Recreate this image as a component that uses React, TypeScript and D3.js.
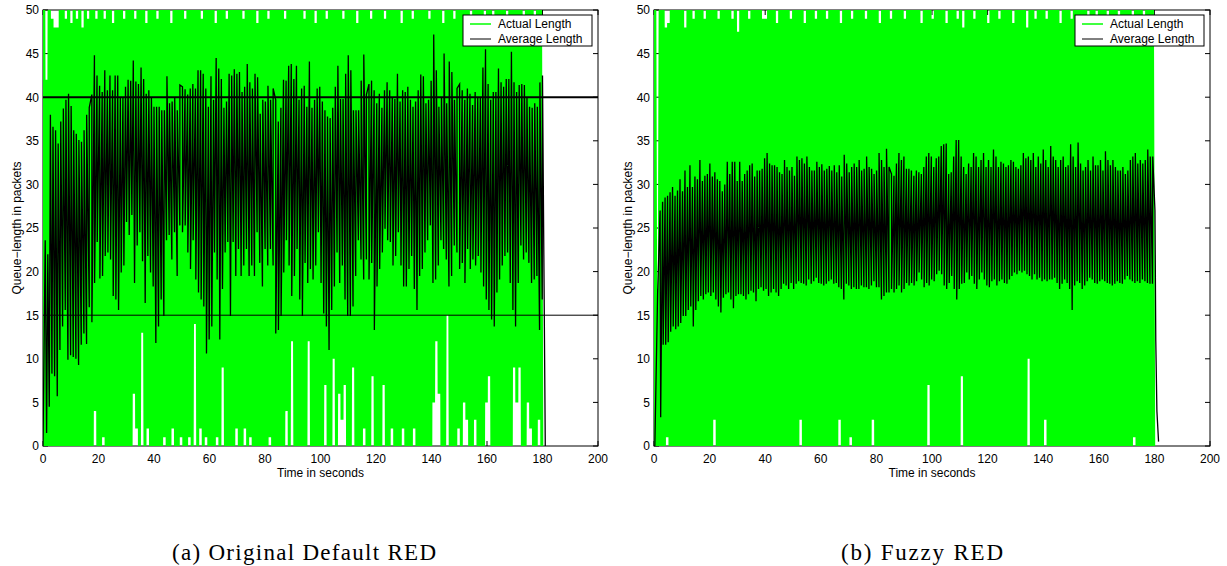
import React from 'react';
import * as d3 from 'd3';

const W = 1227;
const H = 566;

const xTicks = [0, 20, 40, 60, 80, 100, 120, 140, 160, 180, 200];
const yTicks = [0, 5, 10, 15, 20, 25, 30, 35, 40, 45, 50];
const legendLabels = ['Actual Length', 'Average Length'];
const xLabel = 'Time in seconds';
const yLabel = 'Queue\u2212length in packets';
const captions = ['(a) Original Default RED', '(b) Fuzzy RED'];
const thresholdsA = [15, 40];

// ---------- Panel (a): Original Default RED ----------
// Actual queue length: one peak and one trough per second (peaks above 50 are clipped)
const greenPeaksA = [
  55, 42, 55, 49, 48, 48, 55, 55, 49, 55, 48.5, 55, 49, 55, 48, 55, 49, 55, 55, 49,
  55, 55, 49, 55, 55, 48.5, 55, 55, 55, 49, 55, 55, 55, 49, 55, 55, 55, 48.5, 55, 55,
  55, 49, 55, 55, 55, 55, 48.5, 55, 55, 55, 55, 49, 55, 55, 55, 55, 55, 49, 55, 55,
  55, 55, 48.5, 55, 55, 55, 49, 55, 55, 55, 55, 55, 49, 55, 55, 55, 55, 48.5, 55, 55,
  55, 49, 55, 55, 55, 55, 55, 49, 55, 55, 55, 55, 55, 55, 49, 55, 55, 55, 48.5, 55,
  55, 55, 49, 55, 55, 55, 55, 55, 49, 55, 55, 55, 55, 48.5, 55, 55, 55, 55, 49, 55,
  55, 55, 55, 49, 55, 55, 55, 55, 55, 48.5, 55, 55, 55, 49, 55, 55, 55, 55, 55, 49,
  55, 55, 55, 55, 48.5, 55, 55, 55, 49, 55, 55, 55, 55, 55, 49, 55, 55, 55, 55, 48.5,
  55, 55, 49, 55, 55, 55, 55, 49, 55, 55, 55, 55, 55, 48.5, 55, 55, 55, 49, 55, 55,
];
const greenTroughsA = [
  0, 0, 0, 0, 0, 0, 0, 0, 0, 0, 0, 0, 0, 0, 0, 0, 0, 0, 4, 0,
  0, 1, 0, 0, 0, 0, 0, 0, 0, 0, 0, 0, 6, 2, 0, 13, 0, 2, 0, 0,
  0, 0, 0, 1, 0, 0, 2, 0, 0, 1, 0, 0, 1, 0, 14, 0, 2, 0, 1, 0,
  0, 0, 1, 0, 9, 0, 0, 0, 0, 2, 0, 0, 2, 0, 1, 0, 0, 0, 0, 0,
  0, 1, 0, 0, 0, 0, 0, 4, 0, 12, 0, 0, 0, 0, 0, 12, 0, 0, 0, 0,
  0, 7, 0, 0, 10, 0, 6, 3, 7, 0, 0, 9, 0, 0, 0, 2, 0, 0, 8, 0,
  0, 0, 7, 0, 0, 2, 0, 0, 0, 2, 0, 0, 0, 2, 0, 0, 0, 0, 0, 0,
  5, 12, 6, 0, 0, 15, 0, 0, 0, 2, 0, 5, 3, 0, 0, 3, 0, 0, 0, 5,
  8, 0, 0, 0, 0, 0, 0, 0, 0, 9, 5, 9, 0, 0, 5, 2, 0, 0, 3, 0,
];
// Average queue length: local maxima and minima in time order
const avgPeaksA = [
  23.6, 22, 38, 36.6, 36.2, 34.7, 37.2, 38.7, 39.7, 40.4, 39, 36.2, 35.8, 35.1, 34.9, 36.2, 38, 38.8, 40.3, 44.8,
  42.5, 41.3, 40.6, 43.1, 40.8, 42.5, 40.8, 42.5, 42.5, 40, 40, 41.2, 42, 41.9, 44.2, 41.8, 41.5, 43.4, 42.1, 40.4,
  40.8, 40, 38.9, 38.9, 38.9, 38.5, 38.5, 42.4, 39.3, 39.5, 39.9, 38.5, 41.4, 41.2, 40.9, 40.3, 41, 41.5, 41, 43.1,
  43.1, 42.7, 41, 38.9, 42.4, 39.7, 44.5, 43.3, 42.1, 38.8, 39.5, 42.7, 42.5, 43.2, 42.7, 42.9, 40.6, 41.2, 43.8, 41.7,
  41, 42.7, 42.3, 38.1, 39.7, 39.5, 41.3, 39.7, 41, 39.7, 37.2, 38.8, 42, 41.9, 43.6, 43.8, 42.1, 43.6, 39.7, 41,
  41.3, 38.9, 44.1, 38.8, 39.7, 41, 41.2, 39.5, 38.5, 37.8, 37.6, 38.8, 41.2, 43.6, 39.8, 39.8, 42.7, 44.8, 43.1, 38.5,
  38.5, 38.5, 41.9, 44.9, 40.3, 41.5, 41.9, 40.8, 39.3, 40.4, 38.8, 40.8, 41.7, 40.8, 39.9, 39.8, 42.7, 39.5, 40.8, 40.6,
  41.2, 39.7, 38.9, 39.5, 40.8, 42.6, 42.4, 39.3, 39.7, 41.9, 47.2, 43.1, 38.9, 40, 45, 39.3, 44.1, 42.9, 39.7, 41,
  41.5, 40.8, 39.7, 41, 40.4, 39.1, 40.6, 40, 39.9, 43.4, 45.5, 41.5, 39.7, 40.6, 40.6, 43.3, 41.7, 41.2, 42.1, 42.1,
  45.2, 41.7, 40.6, 41.4, 41.5, 41.4, 39.9, 38.9, 38.8, 39.3, 38.9, 41.7, 42.5,
];
const avgTroughsA = [
  1.5, 4.5, 8.3, 8, 5.7, 11, 13.7, 15.6, 9.9, 10.4, 10.2, 10, 9.3, 11.6, 12.9, 11.7, 15.9, 14.2, 18.7, 23.4,
  19.2, 19.5, 21.8, 22.2, 21.4, 17.2, 16.8, 15.6, 19.9, 20.7, 25.7, 24.2, 26.5, 18.7, 23, 24.5, 21.2, 16.4, 21.8, 19.9,
  18.3, 11.8, 13.7, 16.8, 14.9, 23.6, 24.2, 21.4, 24.5, 19.5, 25.3, 24.5, 25.3, 22.2, 20.3, 23.6, 19.1, 17.6, 16.8, 16,
  10.6, 12.2, 13.7, 22.2, 19.1, 12.2, 18, 22.2, 23.4, 14.9, 23.4, 19.5, 22.6, 19.5, 20.7, 22.6, 19.5, 20.7, 19.5, 24.5,
  21, 18.3, 22.6, 20.7, 22.6, 20.7, 12.9, 13.3, 14.9, 19.9, 23.6, 20.7, 17.2, 19.5, 22.6, 16.8, 14.9, 21, 18.7, 20.3,
  19.1, 20.7, 24.5, 18.7, 15.2, 13.7, 11, 15.6, 18.3, 22.2, 18.7, 20.7, 16.8, 14.9, 14.9, 16, 19.5, 23.6, 21.4, 19.1,
  21.4, 19.1, 21, 13.3, 18.3, 20.3, 22.2, 24.9, 23.6, 23.4, 20.7, 21.8, 24.5, 20.7, 18.3, 18.3, 20.3, 21.8, 18, 15.6,
  19.5, 20.3, 22.2, 23.6, 25.3, 18.7, 19.1, 20.7, 23.6, 22.6, 21.4, 18.3, 19.5, 23, 22.2, 20.3, 21, 18.7, 22.6, 20.3,
  21.4, 20.7, 21.8, 19.9, 18.3, 16.8, 15.6, 14.5, 13.7, 17.6, 19.1, 20.7, 21.8, 22.2, 18.7, 15.6, 13.7, 18.7, 23, 21.4,
  22.2, 21, 18.7, 19.1, 19.5, 13.3, 16.8,
];
const avgHeadA: [number, number][] = [[0, 0]];
const avgTailA: [number, number][] = [[181, 0]];

// ---------- Panel (b): Fuzzy RED ----------
const greenPeaksB = [
  55, 18, 55, 55, 48, 48.5, 55, 55, 55, 55, 55, 48, 55, 55, 49, 55, 55, 55, 49, 55,
  55, 55, 55, 49, 55, 55, 55, 55, 49, 55, 47.5, 55, 55, 55, 49, 55, 55, 55, 55, 49,
  49, 55, 55, 55, 48.5, 55, 55, 55, 55, 49, 55, 55, 55, 55, 48.5, 55, 55, 55, 49, 55,
  55, 55, 49, 55, 55, 55, 55, 48.5, 55, 55, 55, 49, 55, 55, 55, 55, 49, 55, 55, 55,
  55, 48.5, 55, 55, 55, 49, 55, 55, 55, 55, 49, 55, 55, 55, 55, 55, 48.5, 55, 55, 55,
  49, 55, 55, 55, 55, 48.5, 55, 55, 55, 49, 55, 48, 55, 55, 55, 49, 55, 55, 55, 55,
  48.5, 55, 55, 55, 49, 55, 55, 55, 55, 48.5, 55, 55, 55, 55, 48, 55, 55, 49, 55, 55,
  55, 49, 55, 55, 55, 55, 48.5, 55, 55, 55, 49, 55, 55, 55, 55, 55, 48.5, 55, 55, 49,
  55, 55, 55, 48.5, 55, 55, 55, 49, 55, 55, 55, 55, 48.5, 55, 55, 55, 49, 55, 55, 55,
];
const greenTroughsB = [
  0, 0, 0, 0, 1, 0, 0, 0, 0, 0, 0, 0, 0, 0, 0, 0, 0, 0, 0, 0,
  0, 3, 0, 0, 0, 0, 0, 0, 0, 0, 0, 0, 0, 0, 0, 0, 0, 0, 0, 0,
  0, 0, 0, 0, 0, 0, 0, 0, 0, 0, 0, 0, 3, 0, 0, 0, 0, 0, 0, 0,
  0, 0, 0, 0, 0, 0, 3, 0, 0, 0, 1, 0, 0, 0, 0, 0, 0, 0, 3, 0,
  0, 0, 0, 0, 0, 0, 0, 0, 0, 0, 0, 0, 0, 0, 0, 0, 0, 0, 7, 0,
  0, 0, 0, 0, 0, 0, 0, 0, 0, 0, 8, 0, 0, 0, 0, 0, 0, 0, 0, 0,
  0, 0, 0, 0, 0, 0, 0, 0, 0, 0, 0, 0, 0, 0, 10, 0, 0, 0, 0, 0,
  3, 0, 0, 0, 0, 0, 0, 0, 0, 0, 0, 0, 0, 0, 0, 0, 0, 0, 0, 0,
  0, 0, 0, 0, 0, 0, 0, 0, 0, 0, 0, 0, 1, 0, 0, 0, 0, 0, 0, 0,
];
const avgPeaksB = [
  17.5, 27, 28, 28.5, 28.7, 29.1, 29.7, 28.7, 29.3, 30.6, 29.2, 31.6, 29.7, 32.2, 29.7, 30.9, 30.6, 32.8, 30.4, 31,
  31.2, 32.4, 30.9, 31.4, 30.6, 30.4, 29.2, 30, 32.6, 31.2, 32.6, 32.6, 30.4, 32.6, 30.4, 31.2, 31.6, 32.2, 32.4, 30.9,
  31.6, 31.6, 31.8, 33, 33.6, 32.4, 32.2, 32.2, 32, 31.4, 31.2, 32.8, 32, 31.6, 32, 31, 33.2, 32.8, 33, 32.4,
  33.2, 32, 31.6, 31.6, 32.6, 32, 32.3, 31.6, 31.8, 32.1, 31.6, 32.2, 31.4, 32.2, 30.9, 33.4, 32.4, 31.4, 32, 32.4,
  32, 32.8, 31.6, 31.8, 33.2, 32, 31.8, 31.2, 31.6, 33.6, 32.8, 32, 34.1, 32, 31.2, 31, 32.4, 33.6, 32.8, 33.2,
  31.8, 31.8, 31.6, 31, 31.6, 31.4, 31.2, 32, 33.2, 33.6, 33.2, 32, 33, 33.2, 34.4, 34.6, 34.7, 31.2, 31.4, 33.2,
  35.1, 35.1, 33.2, 32, 31.2, 32.4, 32, 33.6, 33.2, 32, 32.8, 33.6, 32, 32.8, 32, 34, 33.2, 32, 32.6, 32.4,
  32, 32.2, 32.8, 32.6, 32, 31.8, 32.2, 33.6, 33, 33.2, 32.8, 33.6, 32, 33.2, 32.4, 34, 32.8, 32, 34.4, 33.2,
  32.8, 32, 32.8, 33.2, 32, 32.2, 34.6, 33.2, 32, 34.8, 32.4, 31.6, 32, 32.8, 31.6, 33.2, 32.2, 32.2, 32.8, 31.6,
  33.8, 32.8, 32.2, 32.8, 32, 31.6, 31.6, 32, 31.2, 31.6, 32.8, 33.2, 33.6, 32.4, 32.8, 32.4, 32.8, 34, 33.2, 33.2,
];
const avgTroughsB = [
  3.3, 11.6, 11.6, 11.9, 13.1, 13.7, 13.4, 13.7, 14.1, 14.9, 14.9, 15.6, 16, 13.7, 15.6, 16.6, 17.2, 16.8, 17.4, 17.6,
  17.2, 17.6, 16.8, 16, 15.3, 17, 17.4, 17.6, 16.8, 15.8, 17.2, 17.4, 17.4, 17.2, 16.8, 17.4, 17.8, 17.6, 16.6, 18,
  18.2, 17.8, 18, 17.2, 17.6, 18, 17.6, 17.2, 18, 18.6, 18.4, 18, 18.7, 18, 18.6, 18.9, 18.7, 18.6, 18.4, 19.1,
  18.6, 18.9, 19.3, 18.7, 18.6, 18.4, 18.6, 18.9, 19.1, 18.6, 18.7, 18.2, 18, 16.8, 18.6, 18.4, 18, 18.2, 18, 18,
  18.4, 18.2, 18.2, 18, 18.4, 18.9, 18.2, 18.2, 16.8, 17.2, 17.6, 17.6, 18, 17.6, 18, 18.4, 17.6, 18, 18.7, 18.4,
  18.7, 18.4, 18.9, 19.9, 19.1, 18.2, 18.7, 18.4, 19.1, 18.9, 19.7, 20.1, 19.7, 18.4, 18, 18.7, 19.5, 18, 16.8, 18,
  18.6, 18.7, 19.9, 19.1, 19.5, 18.6, 18, 19.1, 19.9, 19.1, 18.4, 18.2, 18.9, 19.1, 18.4, 18.9, 19.1, 18.7, 18.6, 19.1,
  19.5, 19.9, 19.7, 20.1, 19.9, 20.1, 19.7, 19.5, 19.1, 19.7, 19.1, 19.3, 18.9, 19.1, 18.9, 19.1, 19.1, 19.3, 18.7, 18,
  18.6, 19.1, 18.7, 18, 15.6, 18.4, 18.9, 18.7, 18, 18.4, 18.9, 19.3, 19.1, 18.7, 18.6, 18.9, 19.1, 18.9, 18.7, 18.6,
  18.4, 18.6, 18.9, 18.7, 18.6, 19.1, 19.5, 19.1, 18.9, 18.7, 18.9, 18.7, 19.1, 18.9, 18.7, 18.6, 18.6,
];
const avgHeadB: [number, number][] = [[0, 0], [0.3, 0]];
const avgTailB: [number, number][] = [[180.2, 27], [180.5, 12], [180.9, 4], [181.5, 0.5]];

type Pt = [number, number];

// Places peaks and troughs on their sampling instants and merges them in time order.
function mergeSeries(
  peaks: number[], pSpan: [number, number],
  troughs: number[], tSpan: [number, number],
  head: Pt[], tail: Pt[]
): Pt[] {
  const pts: Pt[] = [];
  const pStep = (pSpan[1] - pSpan[0]) / (peaks.length - 1);
  const tStep = (tSpan[1] - tSpan[0]) / (troughs.length - 1);
  peaks.forEach((v, i) => pts.push([pSpan[0] + i * pStep, v]));
  troughs.forEach((v, i) => pts.push([tSpan[0] + i * tStep, v]));
  pts.sort((a, b) => a[0] - b[0]);
  return [...head, ...pts, ...tail];
}

const SANS = '"Liberation Sans", Arial, Helvetica, sans-serif';
const Y_TOP = 10;
const Y_BOT = 446;

interface PanelProps {
  id: string;
  x0: number;
  x1: number;
  green: Pt[];
  avg: Pt[];
  thresholds: number[];
  caption: string;
  capX0: number;
  capX1: number;
  yLabelX: number;
}

function Panel({ id, x0, x1, green, avg, thresholds, caption, capX0, capX1, yLabelX }: PanelProps) {
  const x = d3.scaleLinear().domain([0, 200]).range([x0, x1]);
  const y = d3.scaleLinear().domain([0, 50]).range([Y_BOT, Y_TOP]);
  const line = d3.line<Pt>().x((d) => x(d[0])).y((d) => y(d[1]));
  const tickLen = 5;
  const legRight = x1 - 6;
  const legW = 129;
  const legTop = Y_TOP + 5;
  const legH = 31;
  const legX = legRight - legW;
  return (
    <g>
      <defs>
        <clipPath id={`clip-${id}`}>
          <rect x={x0} y={Y_TOP} width={x1 - x0} height={Y_BOT - Y_TOP} />
        </clipPath>
      </defs>
      {/* axes box and inward ticks (beneath data, like MATLAB's bottom layer) */}
      <rect x={x0} y={Y_TOP} width={x1 - x0} height={Y_BOT - Y_TOP} fill="white" stroke="black" strokeWidth={1} />
      {xTicks.map((t) => (
        <g key={`xt${t}`}>
          <line x1={x(t)} x2={x(t)} y1={Y_BOT} y2={Y_BOT - tickLen} stroke="black" />
          <line x1={x(t)} x2={x(t)} y1={Y_TOP} y2={Y_TOP + tickLen} stroke="black" />
        </g>
      ))}
      {yTicks.map((t) => (
        <g key={`yt${t}`}>
          <line x1={x0} x2={x0 + tickLen} y1={y(t)} y2={y(t)} stroke="black" />
          <line x1={x1} x2={x1 - tickLen} y1={y(t)} y2={y(t)} stroke="black" />
        </g>
      ))}
      <g clipPath={`url(#clip-${id})`}>
        <path d={line(green) || ''} fill="none" stroke="#00ff00" strokeWidth={3} />
        <path d={line(avg) || ''} fill="none" stroke="black" strokeWidth={1.3} />
        {thresholds.map((th, i) => (
          <line key={`th${i}`} x1={x0} x2={x1} y1={y(th)} y2={y(th)} stroke="black" strokeWidth={th >= 40 ? 2 : 1} />
        ))}
      </g>
      {/* tick labels */}
      {xTicks.map((t) => (
        <text key={`xl${t}`} x={x(t)} y={463} textAnchor="middle" fontFamily={SANS} fontSize={12}>
          {t}
        </text>
      ))}
      {yTicks.map((t) => (
        <text key={`yl${t}`} x={x0 - 4} y={y(t) + 4.3} textAnchor="end" fontFamily={SANS} fontSize={12}>
          {t}
        </text>
      ))}
      <text x={(x0 + x1) / 2} y={477} textAnchor="middle" fontFamily={SANS} fontSize={12}>
        {xLabel}
      </text>
      <text
        transform={`translate(${yLabelX},${(Y_TOP + Y_BOT) / 2}) rotate(-90)`}
        textAnchor="middle"
        fontFamily={SANS}
        fontSize={12}
      >
        {yLabel}
      </text>
      {/* legend */}
      <rect x={legX} y={legTop} width={legW} height={legH} fill="white" stroke="black" strokeWidth={1} />
      <line x1={legX + 7} x2={legX + 28} y1={legTop + 9} y2={legTop + 9} stroke="#00ff00" strokeWidth={1.5} />
      <line x1={legX + 7} x2={legX + 28} y1={legTop + 24} y2={legTop + 24} stroke="black" strokeWidth={1} />
      <text x={legX + 35} y={legTop + 13.2} fontFamily={SANS} fontSize={12}>
        {legendLabels[0]}
      </text>
      <text x={legX + 35} y={legTop + 28.2} fontFamily={SANS} fontSize={12}>
        {legendLabels[1]}
      </text>
      {/* caption */}
      <text
        x={capX0}
        y={560}
        fontFamily={'"Liberation Serif", "Times New Roman", serif'}
        fontSize={23}
        textLength={capX1 - capX0}
        lengthAdjust="spacing"
      >
        {caption}
      </text>
    </g>
  );
}

export default function App() {
  const greenA = mergeSeries(greenPeaksA, [0.25, 179.25], greenTroughsA, [0.75, 179.75], [[0, 0]], [[180.1, 0]]);
  const avgA = mergeSeries(avgPeaksA, [0.8, 180], avgTroughsA, [1.3, 179.9], avgHeadA, avgTailA);
  const greenB = mergeSeries(greenPeaksB, [0.25, 179.25], greenTroughsB, [0.75, 179.75], [[0, 0]], [[180.2, 0]]);
  const avgB = mergeSeries(avgPeaksB, [1.3, 179.4], avgTroughsB, [2.4, 179.3], avgHeadB, avgTailB);
  return (
    <svg
      width={W}
      height={H}
      viewBox={`0 0 ${W} ${H}`}
      style={{ position: 'absolute', left: 0, top: 0, background: 'white' }}
    >
      <rect x={0} y={0} width={W} height={H} fill="white" />
      <Panel
        id="a"
        x0={43}
        x1={598}
        green={greenA}
        avg={avgA}
        thresholds={thresholdsA}
        caption={captions[0]}
        capX0={172}
        capX1={436}
        yLabelX={21}
      />
      <Panel
        id="b"
        x0={654}
        x1={1210}
        green={greenB}
        avg={avgB}
        thresholds={[]}
        caption={captions[1]}
        capX0={841}
        capX1={1003}
        yLabelX={632}
      />
    </svg>
  );
}
